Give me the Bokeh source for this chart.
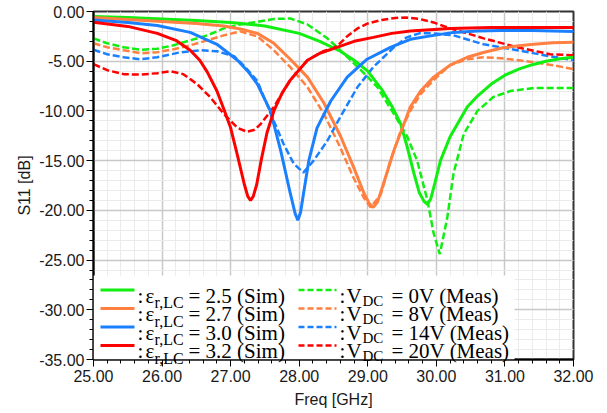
from bokeh.plotting import figure
from bokeh.models import (Range1d, SingleIntervalTicker, PrintfTickFormatter,
                          BoxAnnotation, ColumnDataSource)
from bokeh.embed import file_html
from bokeh.resources import INLINE
from bokeh.core.properties import value

# ---------------- data ----------------
freq_sim_25 = [25.0, 25.5, 26.0, 26.5, 27.0, 27.5, 28.0, 28.3, 28.6, 28.8, 29.0, 29.2, 29.35,
               29.48, 29.57, 29.67, 29.75, 29.82, 29.87, 29.92, 29.98, 30.06, 30.2, 30.45, 30.6,
               30.8, 31.0, 31.2, 31.4, 31.6, 31.8, 32.0]
s11_sim_25 = [-0.5, -0.6, -0.75, -0.9, -1.1, -1.45, -2.2, -3.0, -4.0, -4.9, -6.0, -7.8, -9.5,
              -11.3, -13.5, -16.2, -18.2, -19.1, -19.4, -18.8, -17.2, -15.0, -12.6, -9.6, -8.5,
              -7.3, -6.4, -5.8, -5.35, -5.0, -4.75, -4.6]

freq_meas_0v = [25.0, 25.2, 25.44, 25.7, 25.93, 26.17, 26.41, 26.66, 26.9, 27.14, 27.39, 27.63,
                27.87, 28.12, 28.41, 28.6, 28.9, 29.14, 29.38, 29.57, 29.72, 29.87, 29.96, 30.05,
                30.16, 30.25, 30.4, 30.6, 30.83, 31.08, 31.42, 31.7, 32.0]
s11_meas_0v = [-2.7, -3.2, -3.6, -3.85, -3.75, -3.4, -2.9, -2.4, -1.7, -1.3, -1.05, -0.75,
               -0.7, -1.3, -2.7, -3.9, -5.9, -7.6, -10.3, -12.5, -15.0, -19.0, -22.3, -24.4,
               -20.7, -16.3, -12.3, -10.0, -8.6, -8.0, -7.7, -7.7, -7.7]

freq_sim_27 = [25.0, 25.5, 26.0, 26.5, 26.9, 27.14, 27.39, 27.63, 27.87, 28.12, 28.36, 28.6,
               28.79, 28.94, 29.02, 29.08, 29.14, 29.23, 29.38, 29.5, 29.62, 29.77, 29.96, 30.2,
               30.45, 30.7, 30.94, 31.2, 31.42, 31.7, 32.0]
s11_sim_27 = [-0.6, -0.8, -1.0, -1.2, -1.45, -1.75, -2.2, -3.2, -4.8, -6.6, -9.2, -12.5,
              -15.6, -18.2, -19.3, -19.7, -19.2, -17.3, -14.0, -11.8, -9.6, -8.0, -6.6, -5.4,
              -4.6, -4.1, -3.7, -3.45, -3.3, -3.15, -3.1]

freq_meas_8v = [25.0, 25.2, 25.44, 25.7, 25.93, 26.17, 26.41, 26.66, 26.9, 27.14, 27.39, 27.63,
                27.87, 28.12, 28.36, 28.6, 28.79, 28.94, 29.04, 29.19, 29.33, 29.48, 29.62,
                29.77, 29.96, 30.2, 30.45, 30.69, 30.94, 31.2, 31.42, 31.7, 32.0]
s11_meas_8v = [-3.2, -3.6, -3.9, -4.2, -4.1, -3.8, -3.4, -2.9, -2.4, -2.0, -2.5, -3.9,
               -5.6, -7.6, -10.3, -13.7, -16.7, -18.7, -19.7, -18.4, -15.0, -12.0, -10.0,
               -8.3, -6.9, -5.4, -4.8, -4.6, -4.7, -4.9, -5.1, -5.4, -5.8]

freq_sim_30 = [25.0, 25.5, 25.93, 26.41, 26.8, 27.1, 27.25, 27.39, 27.58, 27.73, 27.87, 27.94,
               27.98, 28.02, 28.07, 28.14, 28.26, 28.46, 28.7, 28.99, 29.33, 29.62, 29.96, 30.25,
               30.6, 30.94, 31.4, 32.0]
s11_sim_30 = [-0.85, -1.1, -1.4, -2.1, -3.3, -4.9, -6.0, -7.3, -10.0, -14.0, -18.3, -20.3,
              -21.0, -20.2, -18.0, -15.0, -11.7, -9.0, -6.6, -4.8, -3.6, -2.8, -2.4, -2.1,
              -1.95, -1.9, -1.9, -2.0]

freq_meas_14v = [25.0, 25.2, 25.44, 25.68, 25.93, 26.27, 26.56, 26.8, 27.05, 27.2, 27.39, 27.58,
                 27.77, 27.92, 28.06, 28.21, 28.41, 28.6, 28.85, 29.08, 29.38, 29.57, 29.75,
                 29.96, 30.25, 30.69, 31.18, 31.66, 32.0]
s11_meas_14v = [-3.85, -4.3, -4.6, -4.8, -4.6, -4.1, -3.9, -4.0, -4.5, -5.5, -7.0, -10.2,
                -13.3, -15.3, -16.2, -15.0, -13.0, -10.6, -7.6, -5.6, -3.6, -2.6, -2.2,
                -2.2, -2.4, -3.3, -3.9, -4.5, -4.9]

freq_sim_32 = [25.0, 25.5, 25.93, 26.2, 26.41, 26.55, 26.66, 26.8, 26.9, 27.0, 27.1, 27.2,
               27.25, 27.29, 27.33, 27.38, 27.45, 27.53, 27.63, 27.75, 27.87, 28.12, 28.3, 28.55,
               28.8, 29.08, 29.35, 29.62, 30.2, 30.8, 31.4, 32.0]
s11_sim_32 = [-1.08, -1.5, -2.2, -2.9, -3.9, -4.9, -6.1, -8.0, -9.8, -11.7, -14.5, -17.4,
              -18.6, -19.0, -18.6, -17.4, -14.8, -12.2, -10.0, -8.2, -6.9, -4.9, -4.2, -3.6,
              -3.0, -2.6, -2.2, -1.95, -1.7, -1.6, -1.6, -1.6]

freq_meas_20v = [25.0, 25.2, 25.44, 25.68, 25.93, 26.12, 26.31, 26.51, 26.7, 26.9, 27.1, 27.24,
                 27.35, 27.44, 27.63, 27.87, 28.12, 28.35, 28.55, 28.7, 28.85, 29.0, 29.2, 29.4,
                 29.55, 29.75, 29.96, 30.2, 30.45, 30.69, 31.18, 31.66, 32.0]
s11_meas_20v = [-5.3, -5.9, -6.3, -6.35, -6.2, -6.0, -6.3, -7.3, -8.6, -10.3, -11.7, -12.1,
                -11.9, -11.3, -9.6, -6.9, -4.9, -4.0, -3.5, -2.5, -1.7, -1.2, -0.85, -0.65,
                -0.6, -0.75, -1.1, -1.7, -2.2, -2.7, -3.6, -4.3, -4.4]

sim_labels = ["= 2.5 (Sim)", "= 2.7 (Sim)", "= 3.0 (Sim)", "= 3.2 (Sim)"]
meas_labels = ["= 0V (Meas)", "= 8V (Meas)", "= 14V (Meas)", "= 20V (Meas)"]
colors = ["#11ee11", "#ff8040", "#1a80ff", "#ff0000"]

x_ticks_interval = 1
y_ticks_interval = 5

sim_series = [(freq_sim_25, s11_sim_25), (freq_sim_27, s11_sim_27),
              (freq_sim_30, s11_sim_30), (freq_sim_32, s11_sim_32)]
meas_series = [(freq_meas_0v, s11_meas_0v), (freq_meas_8v, s11_meas_8v),
               (freq_meas_14v, s11_meas_14v), (freq_meas_20v, s11_meas_20v)]

# ---------------- figure ----------------
W, H = 600, 411
BL, BR, BT, BB = 93, 27, 11, 52
FW, FH = W - BL - BR, H - BT - BB
p = figure(width=W, height=H, output_backend="svg", toolbar_location=None,
           x_range=Range1d(25, 32), y_range=Range1d(-35, 0),
           min_border_left=BL, min_border_right=BR, min_border_top=BT, min_border_bottom=BB)
p.background_fill_color = "white"
p.border_fill_color = "white"
p.outline_line_color = "#333333"
p.outline_line_width = 2

xt = SingleIntervalTicker(interval=x_ticks_interval, num_minor_ticks=5)
yt = SingleIntervalTicker(interval=y_ticks_interval, num_minor_ticks=5)
p.xaxis.ticker = xt
p.yaxis.ticker = yt
p.xgrid.ticker = xt
p.ygrid.ticker = yt
for g in (p.xgrid, p.ygrid):
    g.grid_line_color = "#c8c8c8"
    g.grid_line_width = 1.5
    g.minor_grid_line_color = "#ebebeb"
    g.minor_grid_line_width = 1

for ax in (p.xaxis, p.yaxis):
    ax.formatter = PrintfTickFormatter(format="%.2f")
    ax.axis_line_color = "black"
    ax.axis_line_width = 2
    ax.major_tick_line_color = "black"
    ax.minor_tick_line_color = "black"
    ax.major_tick_in = 0
    ax.minor_tick_in = 0
    ax.major_tick_out = 7
    ax.minor_tick_out = 4
    ax.major_label_text_font = "Liberation Sans"
    ax.major_label_text_font_size = "16px"
    ax.major_label_text_color = "#1a1a1a"
    ax.axis_label_text_font = "Liberation Sans"
    ax.axis_label_text_font_size = "16px"
    ax.axis_label_text_font_style = "normal"
    ax.axis_label_text_color = "#1a1a1a"

p.xaxis.axis_label = "Freq [GHz]"
p.yaxis.axis_label = "S11 [dB]"
p.xaxis.major_label_standoff = 3
p.xaxis.axis_label_standoff = 6
p.yaxis.major_label_standoff = 2
p.yaxis.axis_label_standoff = 3

for (f, s), c in zip(meas_series, colors):
    p.line(f, s, line_color=c, line_width=2.5, line_dash="7 3")
for (f, s), c in zip(sim_series, colors):
    p.line(f, s, line_color=c, line_width=3)

# ---------------- legend (manual, for subscripts) ----------------
# canvas-pixel -> data helpers (frame spans x 93..573, y 11..359)
def fx(px):
    return 25 + (px - BL) / FW * 7

def fy(py):
    return -(py - BT) / FH * 35

box = BoxAnnotation(left=25, right=fx(514), bottom=-35, top=fy(275),
                    fill_color="white", fill_alpha=1.0, line_alpha=0)
p.add_layout(box)

base = [295 + 18.5 * i for i in range(4)]
font = value("Liberation Serif")

seg_sim = ColumnDataSource(dict(x0=[fx(100)] * 4, x1=[fx(134)] * 4,
                                y=[fy(b - 5.5) for b in base], c=colors))
seg_meas = ColumnDataSource(dict(x0=[fx(298)] * 4, x1=[fx(336)] * 4,
                                 y=[fy(b - 5.5) for b in base], c=colors))
r1 = p.segment(x0="x0", y0="y", x1="x1", y1="y", line_color="c", line_width=3, source=seg_sim)
r2 = p.segment(x0="x0", y0="y", x1="x1", y1="y", line_color="c", line_width=2.5,
               line_dash="6 3", source=seg_meas)

main_x, main_y, main_t = [], [], []
for i, b in enumerate(base):
    main_x += [fx(137), fx(145), fx(188), fx(339), fx(346), fx(391)]
    main_y += [fy(b)] * 6
    main_t += [":", "\u03b5", sim_labels[i], ":", "V", meas_labels[i]]
src_main = ColumnDataSource(dict(x=main_x, y=main_y, t=main_t))
r3 = p.text(x="x", y="y", text="t", source=src_main, text_font=font,
            text_font_size="21px", text_color="black", text_align="left",
            text_baseline="alphabetic")

src_sub1 = ColumnDataSource(dict(x=[fx(154)] * 4, y=[fy(b + 7) for b in base], t=["r,LC"] * 4))
r4 = p.text(x="x", y="y", text="t", source=src_sub1, text_font=font,
            text_font_size="16px", text_color="black", text_align="left",
            text_baseline="alphabetic")
src_sub2 = ColumnDataSource(dict(x=[fx(362)] * 4, y=[fy(b + 5) for b in base], t=["DC"] * 4))
r5 = p.text(x="x", y="y", text="t", source=src_sub2, text_font=font,
            text_font_size="15px", text_color="black", text_align="left",
            text_baseline="alphabetic")
for r in (r1, r2, r3, r4, r5):
    r.level = "overlay"

open("out.html", "w").write(file_html(p, INLINE))
